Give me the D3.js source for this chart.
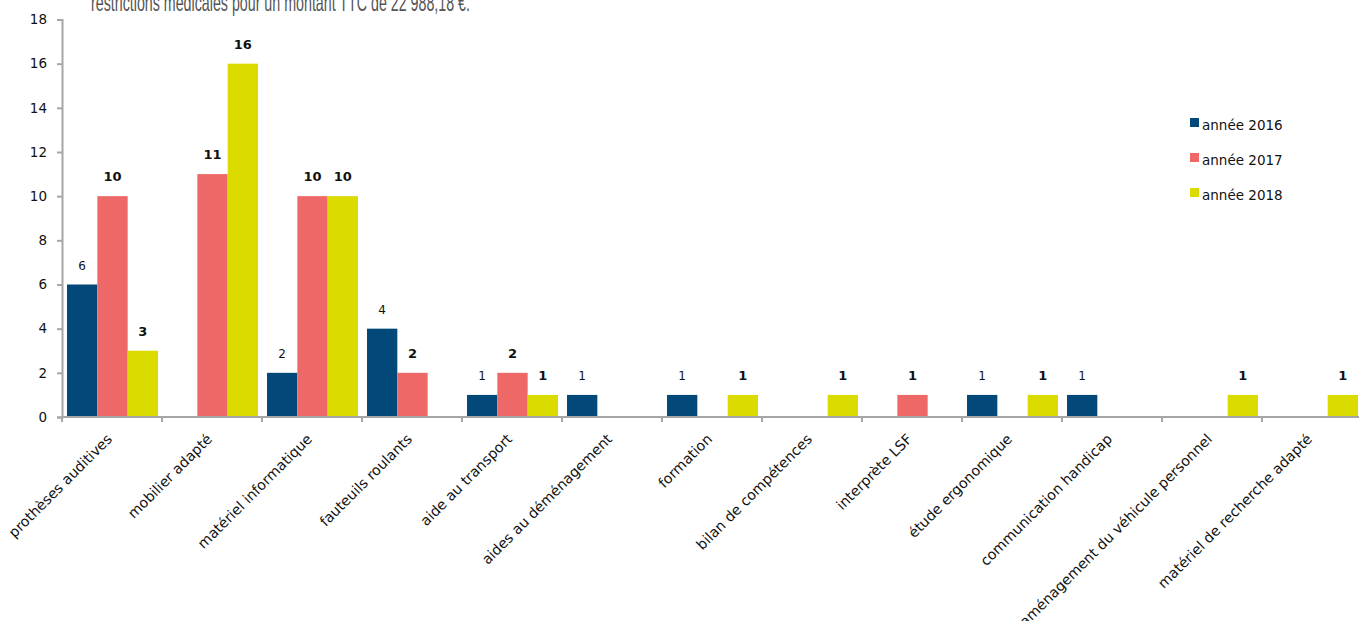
<!DOCTYPE html>
<html><head><meta charset="utf-8">
<script src="https://cdn.jsdelivr.net/npm/d3@7"></script>
<style>body{margin:0;background:#fff}svg{display:block}</style>
</head><body><svg id="c" width="1359" height="621"></svg>
<script>
const categories = ["prothèses auditives","mobilier adapté","matériel informatique","fauteuils roulants","aide au transport","aides au déménagement","formation","bilan de compétences","interprète LSF","étude ergonomique","communication handicap","aménagement du véhicule personnel","matériel de recherche adapté"];
const seriesNames = ["année 2016","année 2017","année 2018"];
const values2016 = [6,null,2,4,1,1,1,null,null,1,1,null,null];
const values2017 = [10,11,10,2,2,null,null,null,1,null,null,null,null];
const values2018 = [3,16,10,null,1,null,1,1,null,1,null,1,1];
const colors = ["#02497a","#ee6868","#dcdb00"];
const yTicks = [0,2,4,6,8,10,12,14,16,18];
const series = [values2016, values2017, values2018];

const svg = d3.select("#c");
const font = "'DejaVu Sans', Verdana, sans-serif";

// paragraph remnant at top (cut off by the page edge, as in the reference)
svg.append("text").attr("x",91).attr("y",11)
  .attr("font-family","'Liberation Sans Narrow','Liberation Sans',sans-serif")
  .attr("font-size",24).attr("fill","#555")
  .attr("textLength",379).attr("lengthAdjust","spacingAndGlyphs")
  .text("restrictions médicales pour un montant TTC de 22 988,18 €.");

const x0 = d3.scaleBand().domain(categories).range([62,1362]).paddingInner(0).paddingOuter(0);
const x1 = d3.scaleBand().domain([0,1,2]).range([5,96]).padding(0);
const y = d3.scaleLinear().domain([0,18]).range([417,19.5]);

// y axis
const ya = svg.append("g").attr("transform","translate(62,0)")
  .call(d3.axisLeft(y).tickValues(yTicks).tickSize(5).tickPadding(10).tickFormat(d3.format("d")));
ya.select(".domain").attr("stroke","#a6a6a6").attr("stroke-width",2);
ya.selectAll(".tick line").attr("stroke","#a6a6a6").attr("stroke-width",2);
ya.selectAll("text").attr("font-family",font).attr("font-size",13.5).attr("fill","#111");

// bars
categories.forEach((c,i)=>{
  series.forEach((s,k)=>{
    const v = s[i];
    if (v==null) return;
    const bx = x0(c)+x1(k);
    svg.append("rect").attr("x",bx).attr("width",x1.bandwidth())
      .attr("y",y(v)).attr("height",y(0)-y(v)).attr("fill",colors[k]);
    svg.append("text").attr("x",bx+x1.bandwidth()/2).attr("y",y(v)-15)
      .attr("text-anchor","middle").attr("font-family",font).attr("font-size",k===0?12:13)
      .attr("font-weight",k===0?"normal":"bold").attr("fill","#111").text(v);
  });
});

// x axis
const xa = svg.append("g").attr("transform","translate(0,417)");
xa.append("line").attr("x1",62).attr("x2",1359).attr("stroke","#a6a6a6").attr("stroke-width",2);
categories.forEach((c,i)=>{
  const tx = x0(c);
  xa.append("line").attr("x1",tx).attr("x2",tx).attr("y1",0).attr("y2",5).attr("stroke","#a6a6a6").attr("stroke-width",2);
  const cx = x0(c)+x0.bandwidth()/2;
  xa.append("text").attr("transform",`translate(${cx+1},${23}) rotate(-45)`)
    .attr("text-anchor","end").attr("font-family",font).attr("font-size",14.2).attr("fill","#111").text(c);
});

// legend
seriesNames.forEach((n,k)=>{
  const ly = 118 + k*35;
  svg.append("rect").attr("x",1190).attr("y",ly).attr("width",9).attr("height",9).attr("fill",colors[k]);
  svg.append("text").attr("x",1202).attr("y",ly+12).attr("font-family",font).attr("font-size",13.5).attr("fill","#111").text(n);
});
</script></body></html>
